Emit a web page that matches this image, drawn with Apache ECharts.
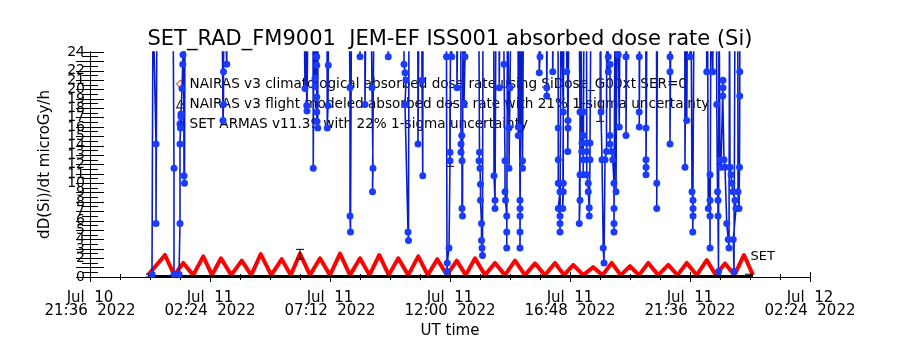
<!DOCTYPE html>
<html>
<head>
<meta charset="utf-8">
<title>SET_RAD_FM9001 JEM-EF ISS001 absorbed dose rate (Si)</title>
<script src="https://cdn.jsdelivr.net/npm/echarts@6/dist/echarts.min.js"></script>
<style>
html, body { margin: 0; padding: 0; background: #fff; }
#chart { width: 900px; height: 350px; }
</style>
</head>
<body>
<div id="chart"></div>
<script>
// times are hours UT since Jul 11 2022 00:00, doses in microGy/h
var tickLabels = ['Jul  10\n21:36  2022', 'Jul  11\n02:24  2022', 'Jul  11\n07:12  2022', 'Jul  11\n12:00  2022',
	'Jul  11\n16:48  2022', 'Jul  11\n21:36  2022', 'Jul  12\n02:24  2022'];

var seriesNames = ['NAIRAS v3 climatological absorbed dose rate using SiDose_G00xt SER=0',
	'NAIRAS v3 flight modeled absorbed dose rate with 21% 1-sigma uncertainty',
	'SET ARMAS v11.39 with 22% 1-sigma uncertainty'];

var nairasClim = [
	[-0.08, 0.2], [0.60, 2.35], [0.97, 0.2], [1.33, 1.5], [1.73, 0.2], [2.13, 2.2], [2.48, 0.2], [2.84, 2.0],
	[3.25, 0.2], [3.67, 1.75], [4.05, 0.2], [4.43, 2.45], [4.85, 0.2], [5.27, 1.9], [5.63, 0.2], [6.00, 2.5],
	[6.40, 0.2], [6.80, 2.0], [7.20, 0.2], [7.60, 2.5], [8.00, 0.2], [8.40, 2.0], [8.78, 0.2], [9.17, 2.35],
	[9.55, 0.2], [9.93, 2.0], [10.33, 0.2], [10.73, 2.2], [11.11, 0.2], [11.49, 1.9], [11.88, 0.2], [12.27, 1.75],
	[12.63, 0.2], [13.00, 2.0], [13.40, 0.2], [13.80, 1.5], [14.20, 0.2], [14.60, 1.75], [15.00, 0.2], [15.40, 1.45],
	[15.80, 0.2], [16.20, 1.5], [16.56, 0.2], [16.93, 1.3], [17.33, 0.2], [17.73, 1.05], [18.10, 0.2], [18.47, 1.5],
	[18.83, 0.2], [19.20, 1.15], [19.56, 0.2], [19.93, 1.5], [20.33, 0.2], [20.73, 1.3], [21.10, 0.2], [21.47, 1.5],
	[21.87, 0.2], [22.27, 1.8], [22.63, 0.2], [23.00, 1.45], [23.38, 0.2], [23.76, 2.35], [24.12, 0.2]
];

var nairasFlight = [[-0.08, 0.05], [3, 0.05], [6, 0.05], [9, 0.05], [12, 0.05], [15, 0.05], [18, 0.05], [21, 0.05], [24.12, 0.05]];

// [hour, low, high]
var nairasFlightErr = [[0.0, 0.0, 0.3], [6.0, 1.9, 2.95], [12.0, 11.8, 18.5], [18.0, 16.6, 30], [23.96, 0.0, 0.3]];

// 30 = off scale, above the 24 top of the plot
var setArmas = [
	[0.08, 0.3], [0.12, 30], [0.24, 14.2], [0.24, 5.7], [0.28, 30],
	[0.92, 30], [0.96, 11.6], [0.96, 0.3], [1.16, 0.3], [1.20, 5.7], [1.20, 14.2], [1.22, 15.9], [1.24, 17.1],
	[1.24, 17.4], [1.28, 20.1], [1.31, 22.7], [1.32, 23.7], [1.34, 30], [1.36, 10.8], [1.38, 10.0], [1.40, 30],
	[2.88, 30], [2.92, 16.7], [2.94, 18.4], [2.94, 21.9], [2.96, 30], [3.07, 22.7], [3.08, 30],
	[6.16, 30], [6.20, 20.1], [6.24, 30], [6.27, 18.3], [6.28, 17.7], [6.32, 30], [6.52, 30], [6.53, 11.6], [6.56, 30],
	[6.60, 21.2], [6.60, 20.3], [6.64, 30], [6.67, 23.5], [6.67, 22.6], [6.67, 19.2], [6.67, 17.6], [6.68, 16.6],
	[6.71, 15.9], [6.72, 30], [7.08, 30], [7.09, 15.9], [7.12, 18.3], [7.13, 22.6], [7.16, 30],
	[7.96, 30], [8.00, 20.2], [8.00, 6.5], [8.02, 4.8], [8.06, 30], [8.39, 30], [8.40, 23.5], [8.44, 30],
	[8.59, 30], [8.60, 18.4], [8.64, 30], [8.84, 30], [8.88, 20.2], [8.92, 11.6], [8.90, 9.1], [8.96, 30],
	[9.52, 30], [9.53, 23.5], [9.56, 30],
	[10.15, 30], [10.16, 22.7], [10.20, 21.8], [10.24, 21.0], [10.20, 18.4], [10.32, 4.8], [10.34, 3.9], [10.36, 30],
	[10.71, 30], [10.72, 14.2], [10.76, 30], [10.87, 30], [10.88, 21.0], [10.91, 10.8], [10.92, 30],
	[11.85, 30], [11.86, 23.5], [11.88, 0.6], [11.89, 1.5], [11.96, 3.1], [12.00, 12.4], [12.00, 13.3], [12.03, 30],
	[12.06, 30], [12.07, 23.5], [12.08, 30], [12.27, 30], [12.28, 20.2], [12.32, 30],
	[12.43, 30], [12.44, 13.3], [12.44, 14.2], [12.47, 15.1], [12.48, 12.4], [12.48, 7.3], [12.50, 6.5], [12.52, 30],
	[12.55, 30], [12.56, 18.4], [12.60, 23.5], [12.64, 30],
	[13.15, 30], [13.18, 13.3], [13.16, 12.4], [13.20, 11.6], [13.22, 9.9], [13.22, 8.2], [13.26, 5.7], [13.26, 3.9],
	[13.28, 3.1], [13.30, 2.3], [13.32, 30],
	[13.75, 30], [13.76, 10.8], [13.80, 8.2], [13.80, 7.3], [13.84, 30], [13.96, 30], [13.97, 20.2], [14.00, 30],
	[14.15, 30], [14.16, 22.7], [14.20, 12.4], [14.20, 9.1], [14.22, 8.2], [14.27, 6.5], [14.27, 4.8], [14.27, 3.1],
	[14.30, 30], [14.35, 30], [14.36, 15.9], [14.36, 11.6], [14.40, 20.2], [14.44, 30],
	[14.72, 30], [14.73, 16.0], [14.73, 15.1], [14.76, 30], [14.79, 30], [14.80, 8.2], [14.80, 7.3], [14.80, 6.5],
	[14.80, 4.8], [14.80, 3.1], [14.84, 30], [14.89, 30], [14.90, 12.4], [14.90, 11.6], [14.94, 30],
	[15.56, 30], [15.57, 21.8], [15.60, 23.5], [15.64, 30], [15.86, 30], [15.87, 20.2], [15.87, 19.3], [15.90, 30],
	[16.10, 30], [16.11, 21.9], [16.14, 30],
	[16.32, 30], [16.33, 15.9], [16.33, 12.5], [16.33, 10.0], [16.40, 9.1], [16.33, 7.3], [16.40, 6.5], [16.40, 5.7],
	[16.40, 4.8], [16.44, 30], [16.52, 30], [16.53, 17.6], [16.53, 10.0], [16.53, 9.1], [16.51, 7.3], [16.56, 30],
	[16.66, 30], [16.67, 21.9], [16.70, 30], [16.71, 13.4], [16.72, 15.9], [16.72, 16.7], [16.76, 30],
	[17.16, 30], [17.20, 17.6], [17.20, 10.9], [17.20, 8.2], [17.17, 5.7], [17.24, 30], [17.27, 30], [17.27, 13.4],
	[17.28, 14.3], [17.33, 17.6], [17.33, 15.1], [17.33, 12.5], [17.33, 10.9], [17.36, 30],
	[17.46, 30], [17.47, 14.3], [17.47, 13.4], [17.47, 10.9], [17.53, 10.0], [17.53, 9.1], [17.57, 7.4], [17.57, 6.5],
	[17.60, 12.5], [17.60, 14.3], [17.64, 30],
	[18.03, 30], [18.04, 17.6], [18.08, 12.5], [18.13, 3.1], [18.16, 1.5], [18.20, 12.5], [18.26, 13.4], [18.27, 30],
	[18.32, 30], [18.33, 23.5], [18.33, 21.9], [18.40, 22.7], [18.40, 15.1], [18.40, 14.2], [18.47, 13.4],
	[18.51, 12.5], [18.56, 10.0], [18.56, 7.3], [18.56, 5.7], [18.56, 4.8], [18.60, 30], [18.63, 30], [18.64, 9.1],
	[18.68, 30], [18.72, 30], [18.73, 23.7], [18.77, 16.0], [18.80, 30],
	[19.03, 30], [19.04, 23.5], [19.04, 15.1], [19.08, 30], [19.56, 30], [19.57, 23.5], [19.57, 17.6], [19.57, 16.0],
	[19.60, 30], [19.83, 30], [19.84, 15.9], [19.84, 12.5], [19.84, 11.7], [19.84, 10.9], [19.88, 30],
	[20.26, 30], [20.27, 10.0], [20.27, 7.3], [20.30, 30], [20.79, 30], [20.80, 23.5], [20.80, 21.9], [20.80, 14.2],
	[20.84, 30],
	[21.39, 30], [21.40, 11.7], [21.44, 30], [21.46, 30], [21.47, 16.7], [21.50, 30], [21.59, 30], [21.60, 23.5],
	[21.64, 30], [21.67, 30], [21.68, 9.1], [21.72, 8.2], [21.72, 7.3], [21.72, 6.5], [21.71, 4.8], [21.76, 30],
	[22.26, 30], [22.27, 21.9], [22.30, 30], [22.32, 30], [22.33, 7.3], [22.40, 10.9], [22.40, 8.2], [22.40, 6.5],
	[22.40, 3.1], [22.44, 30], [22.50, 30], [22.51, 21.9], [22.54, 30],
	[22.66, 30], [22.67, 18.4], [22.70, 9.1], [22.72, 8.2], [22.72, 6.5], [22.74, 0.6], [22.76, 30], [22.79, 30],
	[22.80, 12.5], [22.84, 11.7], [22.92, 21.0], [22.92, 20.2], [22.91, 19.3], [22.96, 12.5], [23.00, 11.7],
	[23.07, 5.7], [23.13, 4.0], [23.16, 3.1], [23.18, 30], [23.19, 30], [23.20, 11.7], [23.24, 10.9], [23.27, 10.0],
	[23.32, 9.1], [23.40, 8.2], [23.44, 7.3], [23.33, 4.0], [23.36, 0.6], [23.40, 30], [23.51, 30], [23.52, 9.1],
	[23.56, 7.3], [23.58, 11.7], [23.59, 19.3], [23.59, 21.9], [23.60, 30]
];

var font = 'DejaVu Sans';

// axis runs in minutes from Jul 10 21:36
var toAxis = function(h) {
	return Math.round((h + 2.4) * 6000) / 100;
};
var toPoints = function(list) {
	return list.map(function(p) {
		return [toAxis(p[0])].concat(p.slice(1));
	});
};

var renderErrorBar = function(params, api) {
	var x = api.value(0);
	var lo = api.coord([x, api.value(1)]);
	var hi = api.coord([x, api.value(2)]);
	var w = 4;
	var style = { stroke : '#000', lineWidth : 1 };
	return {
		type : 'group',
		children : [
			{ type : 'line', shape : { x1 : lo[0], y1 : lo[1], x2 : hi[0], y2 : hi[1] }, style : style },
			{ type : 'line', shape : { x1 : lo[0] - w, y1 : lo[1], x2 : lo[0] + w, y2 : lo[1] }, style : style },
			{ type : 'line', shape : { x1 : hi[0] - w, y1 : hi[1], x2 : hi[0] + w, y2 : hi[1] }, style : style }
		]
	};
};

var xAxisBase = {
	type : 'value',
	min : 0,
	max : 1728,
	interval : 288,
	splitLine : { show : false },
	axisLine : { show : true, lineStyle : { color : '#000', width : 1 } },
	axisTick : { show : true, inside : true, length : 5, lineStyle : { color : '#000' } },
	minorTick : { show : true, splitNumber : 4, length : 3, lineStyle : { color : '#000' } },
	minorSplitLine : { show : false }
};
var yAxisBase = {
	type : 'value',
	min : 0,
	max : 24,
	interval : 1,
	splitLine : { show : false },
	axisLine : { show : true, lineStyle : { color : '#000', width : 1 } },
	axisTick : { show : true, inside : true, length : 14, lineStyle : { color : '#000' } },
	minorTick : { show : true, splitNumber : 2, length : 8, lineStyle : { color : '#000' } },
	minorSplitLine : { show : false }
};

var chart = echarts.init(document.getElementById('chart'));

var option = {
	backgroundColor : '#fff',
	animation : false,
	title : {
		text : 'SET_RAD_FM9001  JEM-EF ISS001 absorbed dose rate (Si)',
		left : 'center',
		top : 24,
		textStyle : { fontFamily : font, fontSize : 21, fontWeight : 'normal', color : '#000' }
	},
	legend : {
		orient : 'vertical',
		left : 171,
		top : 72,
		itemWidth : 8,
		itemHeight : 8,
		itemGap : 6,
		selectedMode : false,
		textStyle : { fontFamily : font, fontSize : 13.6, color : '#000', lineHeight : 14 },
		data : [
			{ name : seriesNames[0], icon : 'diamond', itemStyle : { color : '#fff', borderColor : '#e00000', borderWidth : 1 } },
			{ name : seriesNames[1], icon : 'triangle', itemStyle : { color : '#fff', borderColor : '#000', borderWidth : 1 } },
			{ name : seriesNames[2], icon : 'circle', itemStyle : { color : '#1a3cff' } }
		]
	},
	grid : { left : 90, right : 90, top : 52, bottom : 73 },
	xAxis : [
		echarts.util.merge({
			position : 'bottom',
			name : 'UT time',
			nameLocation : 'middle',
			nameGap : 47,
			nameTextStyle : { fontFamily : font, fontSize : 15, color : '#000' },
			axisLabel : {
				fontFamily : font, fontSize : 15, color : '#000', lineHeight : 13, margin : 15,
				showMinLabel : true, showMaxLabel : true,
				formatter : function(val) {
					return tickLabels[Math.round(val / 288)];
				}
			}
		}, xAxisBase, true),
		echarts.util.merge({ position : 'top', axisLabel : { show : false } }, xAxisBase, true)
	],
	yAxis : [
		echarts.util.merge({
			position : 'left',
			name : 'dD(Si)/dt microGy/h',
			nameLocation : 'middle',
			nameGap : 37,
			nameTextStyle : { fontFamily : font, fontSize : 15, color : '#000' },
			axisLabel : { fontFamily : font, fontSize : 14, color : '#000', margin : 5, showMinLabel : true, showMaxLabel : true }
		}, yAxisBase, true),
		echarts.util.merge({ position : 'right', axisLabel : { show : false } }, yAxisBase, true)
	],
	series : [ {
		name : seriesNames[0],
		type : 'line',
		data : toPoints(nairasClim),
		symbol : 'none',
		itemStyle : { color : '#ff0000' },
		lineStyle : { color : '#ff0000', width : 4, join : 'round' },
		z : 2
	}, {
		name : seriesNames[1],
		type : 'line',
		data : toPoints(nairasFlight),
		symbol : 'none',
		itemStyle : { color : '#000' },
		lineStyle : { color : '#000', width : 3 },
		z : 3,
		markPoint : {
			symbol : 'circle',
			symbolSize : 1,
			itemStyle : { color : 'rgba(0,0,0,0)' },
			data : [ {
				coord : [ toAxis(nairasFlight[nairasFlight.length - 1][0]), 0 ],
				label : {
					show : true, formatter : 'SET', position : 'right', offset : [ -8, -20 ],
					fontFamily : font, fontSize : 13, color : '#000'
				}
			} ]
		}
	}, {
		name : 'flight error',
		type : 'custom',
		data : toPoints(nairasFlightErr),
		encode : { x : 0, y : [ 1, 2 ] },
		renderItem : renderErrorBar,
		clip : true,
		z : 3
	}, {
		name : seriesNames[2],
		type : 'line',
		data : toPoints(setArmas),
		symbol : 'circle',
		symbolSize : 7,
		showAllSymbol : true,
		itemStyle : { color : '#1a3cff' },
		lineStyle : { color : '#0a1ec8', width : 1.6 },
		clip : true,
		z : 4
	} ]
};

chart.setOption(option);
</script>
</body>
</html>
